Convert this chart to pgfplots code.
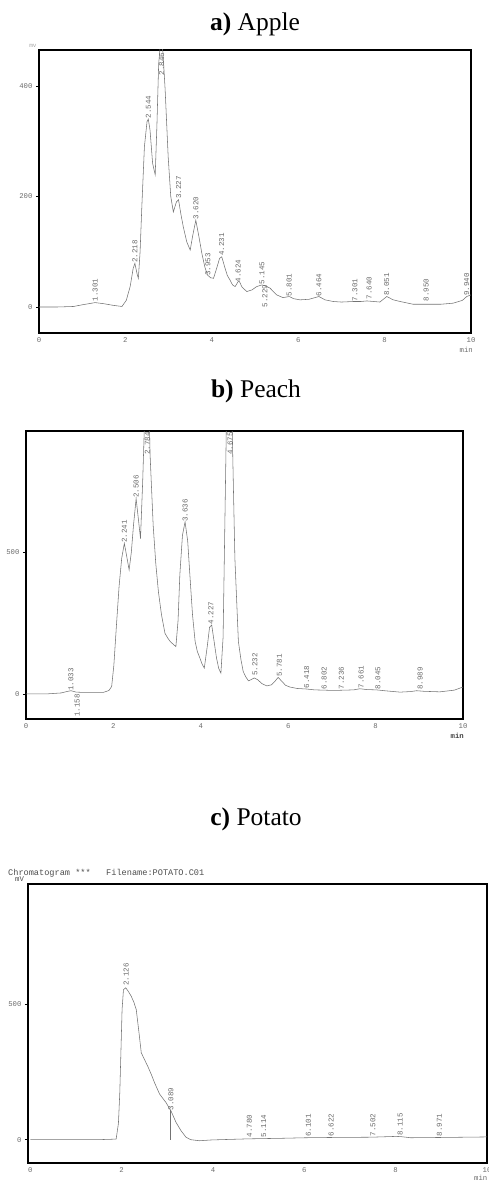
\documentclass[border=0pt]{standalone}
\usepackage{fontspec}
\setmainfont{Liberation Serif}
\newfontfamily\mono{Liberation Mono}
\usepackage{pgfplots}
\pgfplotsset{compat=1.18}
\definecolor{curve}{gray}{0.45}
\definecolor{lbl}{gray}{0.42}
\pgfplotsset{trace/.style={color=curve, line width=0.55pt, no markers},
chrom/.style={
  scale only axis, anchor=north west,
  xmin=0, xmax=10, xtick={0,2,4,6,8,10},
  axis line style={line width=1.2pt, black},
  tick label style={font=\mono\fontsize{7.3}{8}\selectfont, text=lbl},
  /pgf/number format/assume math mode=true,
  scaled y ticks=false,
  tick align=outside, xtick pos=bottom, ytick pos=left,
  major tick length=3pt,
  xtick style={draw=none},
  ytick style={black, line width=0.5pt},
  xticklabel style={yshift=1.5pt},
}}
\newcommand{\pk}[4][west]{\node[rotate=90, anchor=#1, inner sep=0.6pt, font=\mono\fontsize{7.5}{8}\selectfont, text=lbl] at (axis cs:#2,#3) {#4};}
\begin{document}
\begin{tikzpicture}
\useasboundingbox (0pt,0pt) rectangle (488pt,-1180pt);
\clip (0pt,0pt) rectangle (488pt,-1180pt);
% titles
\node[anchor=base, font=\fontsize{25.5}{30}\selectfont] at (255pt,-31pt) {\textbf{a)} Apple};
\node[anchor=base, font=\fontsize{25.5}{30}\selectfont] at (256pt,-397.5pt) {\textbf{b)} Peach};
\node[anchor=base, font=\fontsize{25.5}{30}\selectfont] at (256pt,-825pt) {\textbf{c)} Potato};
% ---------------- a) Apple
\begin{axis}[chrom, at={(39pt,-50pt)}, width=432pt, height=283pt,
  ymin=-47, ymax=465, ytick={0,200,400}]
\addplot[trace] coordinates {(0,0) (0.4,0) (0.8,1) (1.0,4) (1.3,8) (1.5,6) (1.72,3) (1.92,1) (2.02,12) (2.11,37) (2.18,70) (2.22,79) (2.27,60) (2.30,52) (2.34,100) (2.38,181) (2.44,290) (2.50,335) (2.53,340) (2.57,320) (2.63,260) (2.69,239) (2.73,330) (2.77,440) (2.82,485) (2.87,460) (2.92,393) (2.99,272) (3.05,200) (3.11,172) (3.18,190) (3.23,194) (3.28,170) (3.34,145) (3.42,118) (3.50,103) (3.56,130) (3.63,157) (3.70,128) (3.77,97) (3.84,72) (3.90,58) (3.97,53) (4.04,52) (4.12,72) (4.18,88) (4.23,91) (4.30,72) (4.36,57) (4.42,49) (4.48,40) (4.54,37) (4.61,46) (4.64,46) (4.70,36) (4.81,28) (4.93,31) (5.04,37) (5.16,40) (5.25,38) (5.35,34) (5.50,22) (5.65,17) (5.79,19) (5.90,15) (6.04,13) (6.25,14) (6.48,19) (6.62,13) (6.81,10) (7.0,9) (7.28,10) (7.45,10) (7.59,11) (7.75,10) (7.89,9) (8.05,19) (8.2,13) (8.36,10) (8.66,5) (8.97,5) (9.3,5) (9.59,7) (9.80,12) (9.90,19) (10,22)};
\pk{1.30}{9}{1.301}
\pk{2.22}{79}{2.218}
\pk{2.53}{340}{2.544}
\pk{2.84}{418}{2.846}
\pk{3.23}{194}{3.227}
\pk{3.63}{157}{3.620}
\pk{3.91}{55}{3.953}
\pk{4.23}{91}{4.231}
\pk{4.61}{43}{4.624}
\pk{5.16}{40}{5.145}
\pk{5.23}{-2}{5.229}
\pk{5.79}{18}{5.801}
\pk{6.48}{18}{6.464}
\pk{7.31}{9}{7.301}
\pk{7.64}{13}{7.640}
\pk{8.05}{19}{8.051}
\pk{8.96}{9}{8.950}
\pk{9.90}{19}{9.940}
\end{axis}
\node[anchor=east, inner sep=0pt, font=\mono\fontsize{7.3}{8}\selectfont, text=lbl] at (473pt,-349.5pt) {min};
\node[anchor=center, inner sep=0pt, font=\mono\fontsize{6}{7}\selectfont, text=lbl!60] at (33pt,-46pt) {mv};
% ---------------- b) Peach
\begin{axis}[chrom, at={(26pt,-431pt)}, width=437pt, height=288pt,
  ymin=-89, ymax=929, ytick={0,500}]
\addplot[trace] coordinates {(0,0) (0.5,0) (0.8,3) (0.93,8) (1.03,11) (1.15,6) (1.31,5) (1.77,5) (1.90,12) (1.96,26) (2.01,100) (2.07,243) (2.13,380) (2.19,479) (2.25,532) (2.30,490) (2.36,438) (2.41,500) (2.46,596) (2.52,690) (2.57,620) (2.62,549) (2.67,750) (2.72,1000) (2.78,1150) (2.81,1050) (2.84,843) (2.91,596) (2.97,460) (3.03,361) (3.10,280) (3.18,214) (3.24,198) (3.30,185) (3.37,175) (3.43,167) (3.48,260) (3.52,420) (3.58,560) (3.64,608) (3.70,540) (3.75,420) (3.81,280) (3.87,185) (3.92,150) (3.98,126) (4.03,105) (4.08,91) (4.15,170) (4.20,235) (4.25,243) (4.30,190) (4.36,126) (4.41,90) (4.46,73) (4.51,200) (4.55,596) (4.59,1000) (4.65,1300) (4.71,1000) (4.75,700) (4.78,479) (4.86,185) (4.92,120) (4.97,79) (5.03,60) (5.09,46) (5.15,50) (5.22,56) (5.30,50) (5.40,36) (5.51,28) (5.62,32) (5.70,45) (5.77,58) (5.85,45) (5.94,30) (6.04,24) (6.2,19) (6.42,17) (6.6,14) (7.03,12) (7.3,13) (7.5,14) (7.64,18) (7.8,15) (8.02,14) (8.2,11) (8.56,6) (8.8,8) (8.94,11) (9.1,9) (9.47,7) (9.8,13) (10,24)};
\pk{1.03}{8}{1.033}
\pk[east]{1.17}{2}{1.158}
\pk{2.25}{532}{2.241}
\pk{2.52}{690}{2.506}
\pk{2.78}{843}{2.784}
\pk{3.64}{605}{3.636}
\pk{4.23}{243}{4.227}
\pk{4.67}{843}{4.675}
\pk{5.24}{61}{5.232}
\pk{5.80}{58}{5.781}
\pk{6.42}{17}{6.418}
\pk{6.82}{14}{6.802}
\pk{7.22}{14}{7.236}
\pk{7.67}{17}{7.661}
\pk{8.05}{14}{8.045}
\pk{9.02}{11}{8.989}
\end{axis}
\node[anchor=east, inner sep=0pt, font=\mono\fontsize{7.3}{8}\selectfont, text=black!75] at (464pt,-736pt) {\textbf{min}};
% ---------------- c) Potato
\node[anchor=west, inner sep=0pt, font=\mono\fontsize{8.6}{9}\selectfont, text=black!70] at (8pt,-873pt) {Chromatogram ***\ \ \ Filename:POTATO.C01};
\node[anchor=west, inner sep=0pt, font=\mono\fontsize{7.3}{8}\selectfont, text=black!70] at (15pt,-879.5pt) {mV};
\begin{axis}[chrom, at={(28pt,-884pt)}, width=459pt, height=279pt,
  xmin=-0.05, xmax=10, ymin=-86, ymax=941, ytick={0,500}]
\addplot[trace] coordinates {(0,0) (1.16,0) (1.5,0) (1.88,2) (1.93,60) (1.96,174) (2.01,479) (2.04,552) (2.09,559) (2.15,545) (2.21,528) (2.27,505) (2.32,479) (2.38,394) (2.43,320) (2.50,295) (2.57,271) (2.65,240) (2.72,210) (2.83,168) (2.97,137) (3.08,106) (3.19,64) (3.30,33) (3.41,9) (3.51,0) (3.70,-4) (3.98,-1) (4.78,3) (5.5,5) (6.02,7) (6.59,8) (7.46,9) (8.01,12) (8.12,11) (8.33,7) (8.98,8) (9.5,9) (10,10)};
\addplot[trace] coordinates {(3.06,0) (3.06,110)};
\pk{2.10}{563}{2.126}
\pk{3.08}{106}{3.089}
\pk{4.80}{6}{4.780}
\pk{5.11}{6}{5.114}
\pk{6.09}{8}{6.101}
\pk{6.59}{9}{6.622}
\pk{7.50}{10}{7.502}
\pk{8.10}{12}{8.115}
\pk{8.96}{9}{8.971}
\end{axis}
\node[anchor=west, inner sep=0pt, font=\mono\fontsize{7.3}{8}\selectfont, text=lbl] at (474pt,-1178pt) {min};
\end{tikzpicture}
\end{document}
